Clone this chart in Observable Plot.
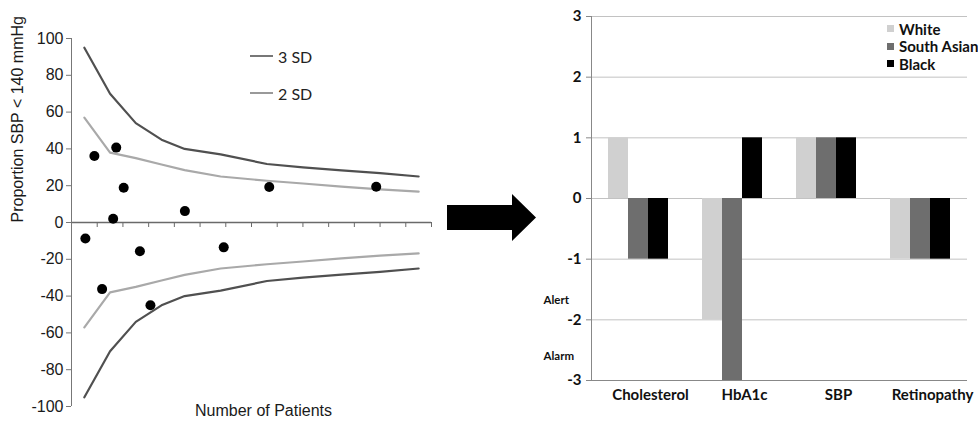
<!DOCTYPE html>
<html>
<head>
<meta charset="utf-8">
<script src="https://cdn.jsdelivr.net/npm/d3@7"></script>
<script src="https://cdn.jsdelivr.net/npm/@observablehq/plot@0.6"></script>
<style>
  body { margin: 0; background: #fff; }
  #wrap { position: relative; width: 978px; height: 423px; overflow: hidden; background: #fff; }
  #left { position: absolute; left: 0; top: 0; }
  #right { position: absolute; left: 520px; top: 0; }
  #arrow { position: absolute; left: 0; top: 0; pointer-events: none; }
  .lleg { position: absolute; display: flex; align-items: center; height: 20px; white-space: nowrap; font-family: Lato, sans-serif; font-size: 16px; color: #222; }
  .lleg span.ln { display: inline-block; width: 23px; height: 2px; margin-right: 5px; }
  .rleg { position: absolute; display: flex; align-items: center; height: 18px; white-space: nowrap; font-family: Lato, sans-serif; font-weight: bold; font-size: 15px; color: #111; }
  .rleg span.sw { display: inline-block; width: 7px; height: 7px; margin-right: 5px; flex: none; }
</style>
</head>
<body>
<div id="wrap">
  <svg id="arrow" width="978" height="423"><polygon points="447,205 512,205 512,194 536,217.5 512,241 512,230 447,230" fill="#000"/></svg>
  <div id="left"></div>
  <div id="right"></div>
  <div id="legLeft"></div>
  <div id="legRight"></div>
</div>
<script>
// ---------- Left: funnel plot ----------
const sampleSizes = [5, 15, 25, 35, 44, 58, 76, 90, 105, 120, 135];
const limit3SD = [95, 70, 54, 45, 40, 37, 31.8, 30, 28.3, 26.8, 25];
const limit2SD = [57, 38, 35, 31.5, 28.5, 25, 22.7, 21.2, 19.5, 18, 16.8];
const practiceN = [8.9, 17.4, 20.3, 16.2, 44.1, 76.9, 118.5, 5.4, 26.6, 59.2, 11.9, 30.7];
const practiceValue = [36.1, 40.7, 18.9, 2, 6.2, 19.3, 19.4, -8.7, -15.6, -13.5, -36.2, -45];
const yTicksLeft = [-100, -80, -60, -40, -20, 0, 20, 40, 60, 80, 100];
const xTicksLeft = [0, 10, 20, 30, 40, 50, 60, 70, 80, 90, 100, 110, 120, 130, 140];
const limitSeries = ["3 SD", "2 SD"];
const limitColors = ["#505050", "#a9a9a9"];

// ---------- Right: bar chart ----------
const categories = ["Cholesterol", "HbA1c", "SBP", "Retinopathy"];
const ethnicGroups = ["White", "South Asian", "Black"];
const whiteScores = [1, -2, 1, -1];
const southAsianScores = [-1, -3, 1, -1];
const blackScores = [-1, 1, 1, -1];
const groupColors = ["#d0d0d0", "#6e6e6e", "#000000"];
const yTicksRight = [-3, -2, -1, 0, 1, 2, 3];
const thresholdLabels = ["Alert", "Alarm"];
const thresholdY = [-1.68, -2.6];

// ----- build left -----
const sd3Rows = sampleSizes.map((n, i) => ({n, v: limit3SD[i]}));
const sd2Rows = sampleSizes.map((n, i) => ({n, v: limit2SD[i]}));
const pointRows = practiceN.map((n, i) => ({n, v: practiceValue[i]}));

const L = {width: 440, height: 423, mt: 38, mb: 17, ml: 71, mr: 9};
const zeroDy = -((L.height - L.mt - L.mb) / 2);

const leftPlot = Plot.plot({
  width: L.width, height: L.height,
  marginLeft: L.ml, marginRight: L.mr, marginTop: L.mt, marginBottom: L.mb,
  style: {fontFamily: "'Liberation Sans', Arial, sans-serif", fontSize: "16px", color: "#1a1a1a", background: "transparent"},
  x: {domain: [0, 140]},
  y: {domain: [-100, 100]},
  marks: [
    Plot.ruleY([0], {stroke: "#6a6a6a", strokeWidth: 1.3}),
    Plot.axisX(xTicksLeft, {anchor: "bottom", dy: zeroDy, tickSize: 5, tickFormat: () => "", label: null, stroke: "#6a6a6a"}),
    Plot.ruleX([0], {stroke: "#777"}),
    Plot.axisY(yTicksLeft, {tickSize: 5, tickPadding: 3, tickFormat: d => String(d), label: null, stroke: "#777", fill: "#1a1a1a"}),
    Plot.line(sd3Rows, {x: "n", y: "v", stroke: limitColors[0], strokeWidth: 2.2}),
    Plot.line(sd3Rows, {x: "n", y: d => -d.v, stroke: limitColors[0], strokeWidth: 2.2}),
    Plot.line(sd2Rows, {x: "n", y: "v", stroke: limitColors[1], strokeWidth: 2.2}),
    Plot.line(sd2Rows, {x: "n", y: d => -d.v, stroke: limitColors[1], strokeWidth: 2.2}),
    Plot.dot(pointRows, {x: "n", y: "v", r: 5, fill: "#000"}),
    Plot.text(["Proportion SBP < 140 mmHg"], {frameAnchor: "left", dx: -54, rotate: -90, fontSize: 16, fill: "#1a1a1a"}),
    Plot.text(["Number of Patients"], {frameAnchor: "bottom", dx: 12, dy: 9, fontSize: 16, fill: "#1a1a1a"})
  ]
});
document.getElementById("left").appendChild(leftPlot);

// left legend
const legLeft = document.getElementById("legLeft");
limitSeries.forEach((s, i) => {
  const d = document.createElement("div");
  d.className = "lleg";
  d.style.left = "250px";
  d.style.top = (46 + i * 37) + "px";
  d.innerHTML = `<span class="ln" style="background:${["#777", "#999"][i]}"></span>${s}`;
  legLeft.appendChild(d);
});

// ----- build right -----
const scoreSeries = [whiteScores, southAsianScores, blackScores];
const scoreRows = [];
categories.forEach((c, i) => {
  ethnicGroups.forEach((g, j) => scoreRows.push({category: c, group: g, value: scoreSeries[j][i]}));
});
const thresholdRows = thresholdLabels.map((t, i) => ({label: t, y: thresholdY[i], category: categories[0]}));

const rightPlot = Plot.plot({
  width: 458, height: 423,
  marginLeft: 70, marginRight: 10, marginTop: 16, marginBottom: 43,
  style: {fontFamily: "Lato, sans-serif", fontWeight: "bold", fontSize: "15px", color: "#111", background: "transparent"},
  fx: {domain: categories, padding: 0, label: null},
  x: {domain: ethnicGroups, paddingInner: 0, paddingOuter: 0.75, axis: null},
  y: {domain: [-3, 3], axis: null},
  color: {domain: ethnicGroups, range: groupColors},
  marks: [
    Plot.ruleY(yTicksRight, {stroke: "#c2c2c2"}),
    Plot.ruleY([-3], {stroke: "#888"}),
    Plot.barY(scoreRows, {fx: "category", x: "group", y: "value", fill: "group"}),
    Plot.frame({anchor: "left", facetAnchor: "left", stroke: "#888"}),
    Plot.axisY(yTicksRight, {tickSize: 5, tickPadding: 5, tickFormat: d => String(d), label: null, stroke: "#888", fill: "#111"}),
    Plot.axisFx({anchor: "bottom", tickSize: 0, tickPadding: 9, dx: 12, label: null, fill: "#111"}),
    Plot.text(thresholdRows, {fx: "category", y: "y", text: "label", frameAnchor: "left", textAnchor: "start", dx: -48, fontSize: 11.5, fill: "#111"})
  ]
});
document.getElementById("right").appendChild(rightPlot);

// right legend
const legRight = document.getElementById("legRight");
ethnicGroups.forEach((g, i) => {
  const d = document.createElement("div");
  d.className = "rleg";
  d.style.left = "887px";
  d.style.top = (19.5 + i * 17.5) + "px";
  d.innerHTML = `<span class="sw" style="background:${groupColors[i]}"></span>${g}`;
  legRight.appendChild(d);
});
</script>
</body>
</html>
